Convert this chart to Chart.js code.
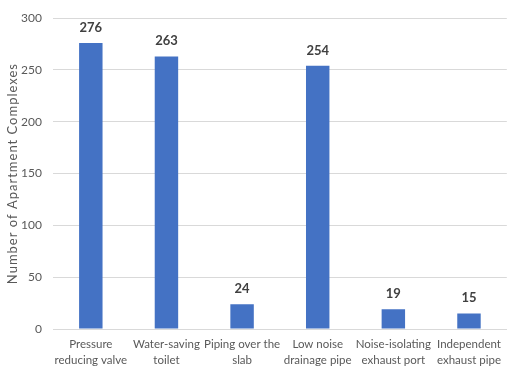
<!DOCTYPE html>
<html>
<head>
<meta charset="utf-8">
<script src="https://cdn.jsdelivr.net/npm/chart.js@4"></script>
<style>
  html, body { margin: 0; padding: 0; background: #fff; }
  #wrap { width: 508px; height: 369px; position: relative; }
</style>
</head>
<body>
<div id="wrap"><canvas id="chart"></canvas></div>
<script>
// datos del gráfico
const categories = [
  ['Pressure', 'reducing valve'],
  ['Water-saving', 'toilet'],
  ['Piping over the', 'slab'],
  ['Low noise', 'drainage pipe'],
  ['Noise-isolating', 'exhaust port'],
  ['Independent', 'exhaust pipe']
];
const complexes = [276, 263, 24, 254, 19, 15];
const yTicks = [0, 50, 100, 150, 200, 250, 300];
const yTitle = 'Number of Apartment Complexes';

const fontFamily = 'Lato, "Open Sans", sans-serif';

// etiquetas de valor encima de cada barra + título del eje Y
const valueLabels = {
  id: 'valueLabels',
  afterDatasetsDraw(chart) {
    const ctx = chart.ctx;
    const meta = chart.getDatasetMeta(0);
    ctx.save();
    ctx.font = 'bold 13px ' + fontFamily;
    ctx.fillStyle = '#404040';
    ctx.textAlign = 'center';
    ctx.textBaseline = 'bottom';
    meta.data.forEach((bar, i) => {
      ctx.fillText(complexes[i], bar.x, bar.y - 9);
    });
    ctx.restore();

    // título vertical con espaciado de letras
    const area = chart.chartArea;
    ctx.save();
    ctx.translate(13, (area.top + area.bottom) / 2);
    ctx.rotate(-Math.PI / 2);
    ctx.font = '13px ' + fontFamily;
    ctx.letterSpacing = '1px';
    ctx.fillStyle = '#595959';
    ctx.textAlign = 'center';
    ctx.textBaseline = 'middle';
    ctx.fillText(yTitle, 0, 0);
    ctx.restore();
  }
};

new Chart(document.getElementById('chart'), {
  type: 'bar',
  data: {
    labels: categories,
    datasets: [{
      data: complexes,
      backgroundColor: '#4472c4',
      categoryPercentage: 1,
      barPercentage: 0.31
    }]
  },
  options: {
    responsive: true,
    maintainAspectRatio: false,
    animation: false,
    layout: { padding: { top: 16, right: 0, left: 0, bottom: 0 } },
    plugins: {
      legend: { display: false },
      tooltip: { enabled: false }
    },
    scales: {
      x: {
        grid: { display: false, drawTicks: false },
        border: { color: '#d9d9d9' },
        ticks: {
          color: '#595959',
          font: { family: fontFamily, size: 11.5, lineHeight: '16px' },
          padding: 7,
          maxRotation: 0,
          autoSkip: false
        },
        afterFit(axis) { axis.height = 40; }
      },
      y: {
        min: 0,
        max: 300,
        afterBuildTicks(axis) { axis.ticks = yTicks.map(v => ({ value: v })); },
        grid: { color: '#d9d9d9', drawTicks: false },
        border: { display: false },
        ticks: {
          color: '#595959',
          font: { family: fontFamily, size: 12 },
          padding: 11
        },
        afterFit(axis) { axis.width = 53; }
      }
    }
  },
  plugins: [valueLabels]
});
</script>
</body>
</html>
